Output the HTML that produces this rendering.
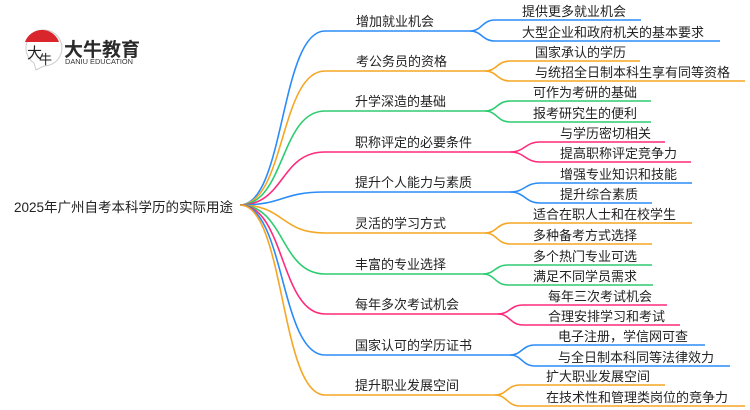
<!DOCTYPE html>
<html><head><meta charset="utf-8"><style>
html,body{margin:0;padding:0;background:#fff;}
svg{display:block;}
text{font-family:"Liberation Sans","Noto Sans CJK SC",sans-serif;fill:#222;}
</style></head><body>
<svg width="750" height="410" viewBox="0 0 750 410" xmlns="http://www.w3.org/2000/svg">
<!-- logo -->
<path d="M36 70 L34 63 A18 18 0 1 1 44 66 Z" fill="#fff" stroke="#ccc" stroke-width="1"/>
<path d="M25 42 A18 18 0 0 1 59 42 Z" fill="#d9262c"/>
<text x="27" y="58" font-size="15" style="fill:#222">大</text>
<text x="39" y="64" font-size="13" style="fill:#222">牛</text>
<text x="64" y="56" font-size="19" font-weight="bold" style="fill:#2a2a2a">大牛教育</text>
<text x="65" y="64" font-size="7" textLength="68" lengthAdjust="spacingAndGlyphs" style="fill:#333">DANIU EDUCATION</text>

<text x="14" y="212" font-size="13.5">2025年广州自考本科学历的实际用途</text>

<g fill="none" stroke-width="1.6">
<g stroke="#2b8cf7">
<path d="M240 205 C285 205,280 31,325 31 L470 31"/>
<path d="M470 31 C482 31,482 20,495 20 L641 20"/>
<path d="M470 31 C482 31,482 41,495 41 L720 41"/>
</g>
<g stroke="#f5a623">
<path d="M240 205 C285 205,280 71,325 71 L485 71"/>
<path d="M485 71 C497 71,497 61,510 61 L640 61"/>
<path d="M485 71 C497 71,497 81,510 81 L745 81"/>
</g>
<g stroke="#2ecc71">
<path d="M240 205 C285 205,280 111,325 111 L485 111"/>
<path d="M485 111 C497 111,497 101,510 101 L651 101"/>
<path d="M485 111 C497 111,497 122,510 122 L651 122"/>
</g>
<g stroke="#ff2a7a">
<path d="M240 205 C285 205,280 152,325 152 L510 152"/>
<path d="M510 152 C525 152,525 142,540 142 L665 142"/>
<path d="M510 152 C525 152,525 162,540 162 L691 162"/>
</g>
<g stroke="#2b8cf7">
<path d="M240 205 C285 205,280 192,325 192 L510 192"/>
<path d="M510 192 C525 192,525 183,540 183 L692 183"/>
<path d="M510 192 C525 192,525 203,540 203 L652 203"/>
</g>
<g stroke="#f5a623">
<path d="M240 205 C285 205,280 233,325 233 L485 233"/>
<path d="M485 233 C497 233,497 223,510 223 L692 223"/>
<path d="M485 233 C497 233,497 244,510 244 L652 244"/>
</g>
<g stroke="#2ecc71">
<path d="M240 205 C285 205,280 274,325 274 L483 274"/>
<path d="M483 274 C495 274,495 265,508 265 L652 265"/>
<path d="M483 274 C495 274,495 285,508 285 L653 285"/>
</g>
<g stroke="#ff2a7a">
<path d="M240 205 C285 205,280 314,325 314 L498 314"/>
<path d="M498 314 C510 314,510 305,523 305 L667 305"/>
<path d="M498 314 C510 314,510 325,523 325 L680 325"/>
</g>
<g stroke="#2b8cf7">
<path d="M240 205 C285 205,280 355,325 355 L510 355"/>
<path d="M510 355 C522 355,522 345,535 345 L705 345"/>
<path d="M510 355 C522 355,522 366,535 366 L730 366"/>
</g>
<g stroke="#f5a623">
<path d="M240 205 C285 205,280 395,325 395 L495 395"/>
<path d="M495 395 C507 395,507 385,520 385 L665 385"/>
<path d="M495 395 C507 395,507 406,520 406 L745 406"/>
</g>
</g>

<g font-size="13">
<text x="356" y="26">增加就业机会</text>
<text x="356" y="66">考公务员的资格</text>
<text x="355" y="106">升学深造的基础</text>
<text x="355" y="147">职称评定的必要条件</text>
<text x="355" y="187">提升个人能力与素质</text>
<text x="355" y="228">灵活的学习方式</text>
<text x="355" y="269">丰富的专业选择</text>
<text x="355" y="309">每年多次考试机会</text>
<text x="355" y="350">国家认可的学历证书</text>
<text x="355" y="390">提升职业发展空间</text>

<text x="522" y="16">提供更多就业机会</text>
<text x="522" y="37">大型企业和政府机关的基本要求</text>
<text x="535" y="57">国家承认的学历</text>
<text x="535" y="77">与统招全日制本科生享有同等资格</text>
<text x="533" y="97">可作为考研的基础</text>
<text x="533" y="118">报考研究生的便利</text>
<text x="560" y="138">与学历密切相关</text>
<text x="560" y="158">提高职称评定竞争力</text>
<text x="560" y="179">增强专业知识和技能</text>
<text x="560" y="199">提升综合素质</text>
<text x="533" y="219">适合在职人士和在校学生</text>
<text x="533" y="240">多种备考方式选择</text>
<text x="533" y="261">多个热门专业可选</text>
<text x="533" y="281">满足不同学员需求</text>
<text x="548" y="301">每年三次考试机会</text>
<text x="548" y="321">合理安排学习和考试</text>
<text x="558" y="341">电子注册，学信网可查</text>
<text x="558" y="362">与全日制本科同等法律效力</text>
<text x="546" y="381">扩大职业发展空间</text>
<text x="546" y="402">在技术性和管理类岗位的竞争力</text>
</g>
</svg>
</body></html>
